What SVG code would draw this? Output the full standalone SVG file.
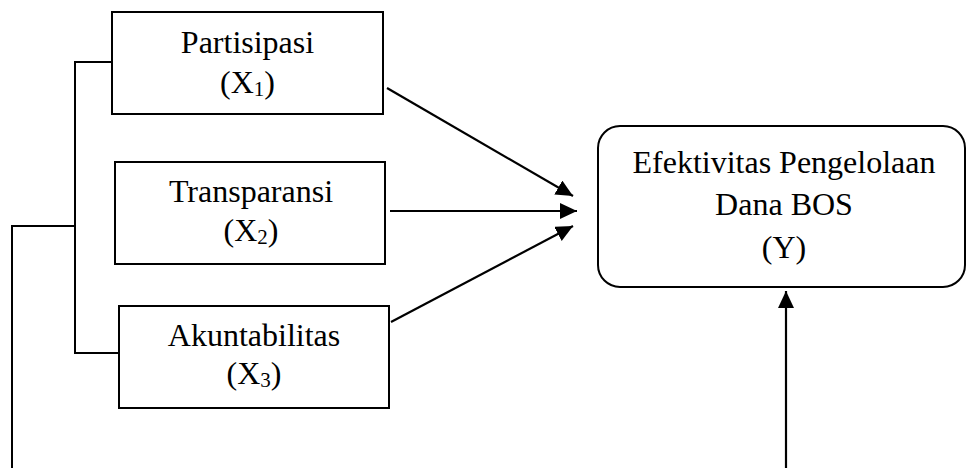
<svg xmlns="http://www.w3.org/2000/svg" width="968" height="468" viewBox="0 0 968 468">
  <style>
    .box { fill: #fff; stroke: #000; stroke-width: 2; }
    .lbl { font-family: "Liberation Serif", "Times New Roman", serif; font-size: 32px; fill: #000; text-anchor: middle; }
    .sub { font-size: 21px; }
    .line { fill: none; stroke: #000; stroke-width: 2; }
    .arrow { fill: none; stroke: #000; stroke-width: 2.2; marker-end: url(#ah); }
  </style>
  <defs>
    <marker id="ah" markerUnits="userSpaceOnUse" markerWidth="18" markerHeight="16" refX="17" refY="8" orient="auto">
      <path d="M0,0 L17,8 L0,16 Z" fill="#000"/>
    </marker>
  </defs>
  <rect width="968" height="468" fill="#fff"/>

  <g id="connectors">
    <path class="line" d="M118,62 H75 V353 H120"/>
    <path class="line" d="M75,226 H12 V468"/>
    <line class="arrow" x1="387" y1="88" x2="573" y2="196"/>
    <line class="arrow" x1="390" y1="211" x2="577" y2="211"/>
    <line class="arrow" x1="391" y1="322" x2="573" y2="226"/>
    <line class="arrow" x1="786" y1="468" x2="786" y2="291"/>
  </g>

  <g id="x1">
    <rect class="box" x="112" y="12" width="271" height="102"/>
    <text class="lbl" x="247.5" y="53">Partisipasi</text>
    <text class="lbl" x="247.5" y="93">(X<tspan class="sub" dy="3">1</tspan><tspan dy="-3">)</tspan></text>
  </g>

  <g id="x2">
    <rect class="box" x="115" y="162" width="270" height="102"/>
    <text class="lbl" x="251" y="202">Transparansi</text>
    <text class="lbl" x="251" y="241">(X<tspan class="sub" dy="3">2</tspan><tspan dy="-3">)</tspan></text>
  </g>

  <g id="x3">
    <rect class="box" x="119" y="306" width="270" height="102"/>
    <text class="lbl" x="254" y="346">Akuntabilitas</text>
    <text class="lbl" x="254" y="384">(X<tspan class="sub" dy="3">3</tspan><tspan dy="-3">)</tspan></text>
  </g>

  <g id="y">
    <rect class="box" x="598" y="126" width="367" height="161" rx="22" ry="22"/>
    <text class="lbl" x="784" y="173">Efektivitas Pengelolaan</text>
    <text class="lbl" x="784" y="215">Dana BOS</text>
    <text class="lbl" x="784" y="258">(Y)</text>
  </g>
</svg>
